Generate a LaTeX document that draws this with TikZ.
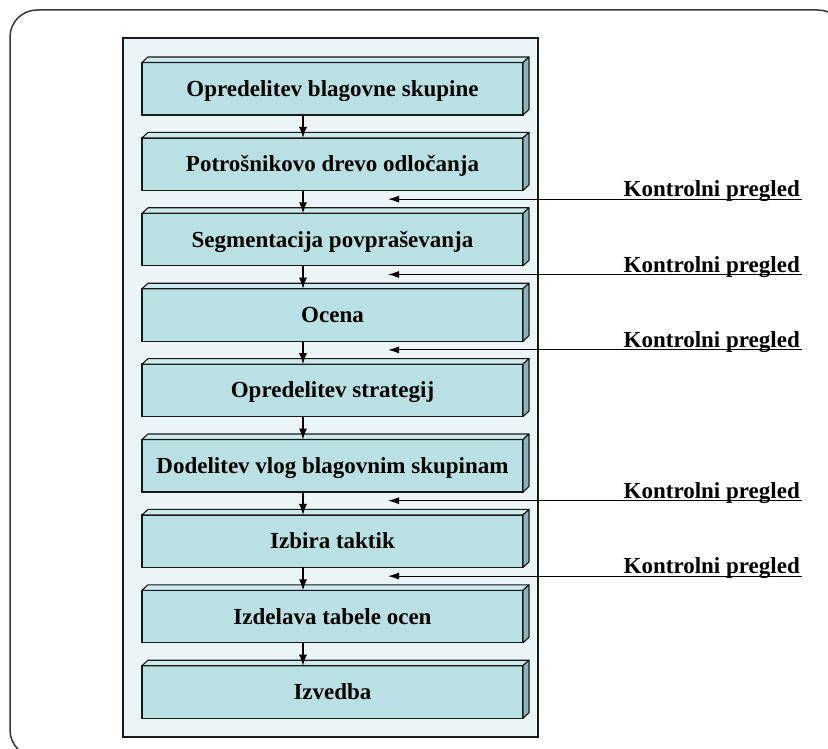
\documentclass[tikz,border=0pt]{standalone}
\usepackage{fontspec}
\setmainfont{Liberation Serif}
\usetikzlibrary{arrows.meta}

\definecolor{panelfill}{RGB}{235,244,246}
\definecolor{boxfront}{RGB}{185,224,227}
\definecolor{boxtop}{RGB}{205,234,236}
\definecolor{boxside}{RGB}{140,180,184}
\definecolor{framegray}{RGB}{55,55,55}
\definecolor{edge}{RGB}{25,25,25}

\begin{document}
\begin{tikzpicture}[x=1pt,y=-1pt,
  stepbox/.style={draw=edge, line width=1.3pt, fill=boxfront,
    minimum width=381pt, minimum height=52.5pt, inner sep=0pt, outer sep=0pt,
    text height=15pt, text depth=0pt,
    font=\fontsize{23}{27}\selectfont\bfseries},
  face/.style={draw=edge, line width=1.1pt, line join=round},
  flow/.style={line width=1.1pt, -{Latex[length=11pt,width=8pt]}},
  check/.style={line width=1.1pt, -{Latex[length=11pt,width=7pt]}},
  checklabel/.style={anchor=base east, inner sep=0pt,
    font=\fontsize{23}{27}\selectfont\bfseries}
]
\useasboundingbox (0,0) rectangle (828,749);

% outer rounded frame, running past the page edges
\begin{scope}
  \clip (0,0) rectangle (828,749);
  \draw[framegray, line width=1.5pt, rounded corners=27pt] (10,10) rectangle (845,757);
\end{scope}

% background panel
\draw[edge, fill=panelfill, line width=1.5pt] (123,38) rectangle (538,737);

% x position of the vertical flow arrows
\coordinate (ax) at (303,0);

% the process steps as bevelled boxes
\foreach \t [count=\k] in {Opredelitev blagovne skupine,
    Potrošnikovo drevo odločanja,
    Segmentacija povpraševanja,
    Ocena,
    Opredelitev strategij,
    Dodelitev vlog blagovnim skupinam,
    Izbira taktik,
    Izdelava tabele ocen,
    Izvedba}{
  \node[stepbox] (b\k) at (332.5, {88.75+(\k-1)*75.4}) {\t};
  \draw[face, fill=boxtop] (b\k.north west) -- ++(6,-5.5)
    -- ([xshift=6pt,yshift=5.5pt]b\k.north east) -- (b\k.north east) -- cycle;
  \draw[face, fill=boxside] (b\k.north east) -- ++(6,-5.5)
    -- ([xshift=6pt,yshift=5.5pt]b\k.south east) -- (b\k.south east) -- cycle;
}

% flow arrows between consecutive steps
\foreach \k [evaluate=\k as \n using int(\k+1)] in {1,...,8}{
  \draw[flow] (b\k.south -| ax) -- (b\n.north -| ax);
}

% review feedback lines entering from the right
\foreach \k in {2,3,4,6,7}{
  \coordinate (cs\k) at (802, {123.7+(\k-1)*75.4});
  \coordinate (ct\k) at (388, {123.7+(\k-1)*75.4});
  \draw[check] (cs\k) -- (ct\k);
  \node[checklabel] (cl\k) at ([xshift=-2pt,yshift=2.5pt]cs\k) {Kontrolni pregled};
}
\end{tikzpicture}
\end{document}
